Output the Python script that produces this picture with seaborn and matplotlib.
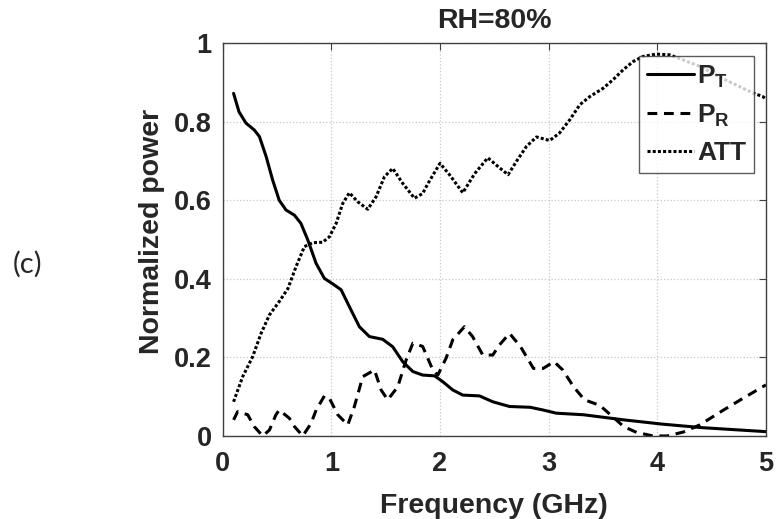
import numpy as np
import pandas as pd
import seaborn as sns
import matplotlib
matplotlib.use('Agg')
import matplotlib.pyplot as plt

# values (frequency in GHz, normalized power)
pt_x = [0.10, 0.15, 0.215, 0.29, 0.338, 0.40, 0.46, 0.52, 0.583, 0.66, 0.72, 0.783, 0.86, 0.936, 1.013,
        1.09, 1.166, 1.258, 1.35, 1.473, 1.565, 1.657, 1.75, 1.84, 1.95, 2.026, 2.118, 2.21, 2.363, 2.486,
        2.64, 2.83, 2.95, 3.07, 3.32, 3.69, 4.05, 4.42, 5.0]
pt_y = [0.872, 0.825, 0.796, 0.779, 0.762, 0.711, 0.651, 0.600, 0.575, 0.562, 0.541, 0.499, 0.439, 0.401,
        0.387, 0.372, 0.329, 0.278, 0.253, 0.246, 0.227, 0.189, 0.164, 0.155, 0.153, 0.138, 0.117, 0.104,
        0.102, 0.087, 0.075, 0.073, 0.066, 0.058, 0.054, 0.041, 0.030, 0.021, 0.011]

pr_x = [0.10, 0.138, 0.23, 0.29, 0.368, 0.43, 0.49, 0.52, 0.614, 0.66, 0.737, 0.813, 0.86, 0.936, 0.982,
        1.059, 1.151, 1.212, 1.289, 1.397, 1.458, 1.519, 1.611, 1.688, 1.75, 1.84, 1.934, 1.98, 2.056, 2.118,
        2.225, 2.30, 2.394, 2.486, 2.548, 2.64, 2.74, 2.86, 2.95, 3.05, 3.13, 3.23, 3.33, 3.47, 3.59, 3.69,
        3.81, 3.96, 4.09, 4.24, 4.39, 4.61, 4.79, 5.0]
pr_y = [0.041, 0.062, 0.054, 0.024, 0.0, 0.015, 0.054, 0.066, 0.045, 0.024, 0.0, 0.032, 0.066, 0.102, 0.096,
        0.054, 0.028, 0.075, 0.151, 0.168, 0.117, 0.092, 0.125, 0.193, 0.236, 0.228, 0.168, 0.155, 0.198,
        0.245, 0.278, 0.253, 0.206, 0.206, 0.232, 0.261, 0.228, 0.172, 0.172, 0.189, 0.168, 0.125, 0.092,
        0.078, 0.049, 0.024, 0.009, 0.0, 0.0, 0.010, 0.028, 0.066, 0.096, 0.130]

att_x = [0.10, 0.184, 0.276, 0.353, 0.43, 0.52, 0.60, 0.675, 0.752, 0.829, 0.92, 0.982, 1.044, 1.105, 1.166,
         1.243, 1.335, 1.412, 1.489, 1.565, 1.657, 1.765, 1.84, 1.89, 2.0, 2.09, 2.21, 2.32, 2.44, 2.55, 2.627,
         2.704, 2.796, 2.888, 3.01, 3.10, 3.195, 3.287, 3.38, 3.502, 3.594, 3.686, 3.778, 3.87, 3.99, 4.115,
         4.40, 4.60, 4.88, 4.97, 5.0]
att_y = [0.087, 0.151, 0.202, 0.261, 0.308, 0.342, 0.375, 0.431, 0.482, 0.492, 0.493, 0.507, 0.541, 0.592,
         0.619, 0.596, 0.577, 0.609, 0.660, 0.681, 0.643, 0.605, 0.617, 0.643, 0.694, 0.664, 0.619, 0.668,
         0.708, 0.682, 0.665, 0.699, 0.737, 0.761, 0.752, 0.771, 0.805, 0.843, 0.864, 0.885, 0.907, 0.932,
         0.953, 0.966, 0.972, 0.970, 0.940, 0.910, 0.873, 0.864, 0.858]

sns.set_style('white')
plt.rcParams['font.family'] = ['Liberation Sans', 'DejaVu Sans']
plt.rcParams['font.weight'] = 'bold'
plt.rcParams['mathtext.fontset'] = 'custom'
plt.rcParams['mathtext.bf'] = 'Liberation Sans:bold'
plt.rcParams['mathtext.rm'] = 'Liberation Sans:bold'
plt.rcParams['mathtext.default'] = 'bf'

fig = plt.figure(figsize=(7.76, 5.19), dpi=100)
ax = fig.add_axes([0.287, 0.160, 0.700, 0.757])

sns.lineplot(x=pt_x, y=pt_y, ax=ax, color='black', lw=2.2, label=r'$P_T$')
sns.lineplot(x=pr_x, y=pr_y, ax=ax, color='black', lw=2.2, linestyle=(0, (3.2, 2.2)), label=r'$P_R$')
sns.lineplot(x=att_x, y=att_y, ax=ax, color='black', lw=2.2, linestyle=(0, (1.0, 0.7)), label='ATT')

ax.set_xlim(0, 5)
ax.set_ylim(0, 1)
ax.set_xticks([0, 1, 2, 3, 4, 5])
ax.set_yticks([0, 0.2, 0.4, 0.6, 0.8, 1])
ax.set_yticklabels(['0', '0.2', '0.4', '0.6', '0.8', '1'])
ax.grid(True, linestyle=':', color='#c8c8c8', linewidth=0.9)
ax.tick_params(direction='in', top=True, right=True, length=5, width=0.8, color='#404040',
               labelsize=19.5)
ax.tick_params(axis='x', pad=11)
ax.tick_params(axis='y', pad=8)
for s in ax.spines.values():
    s.set_color('#404040')
    s.set_linewidth(1.0)

ax.set_xlabel('Frequency (GHz)', fontsize=20.5, fontweight='bold', color='#262626', labelpad=11)
ax.set_ylabel('Normalized power', fontsize=20.5, fontweight='bold', color='#262626')
ax.yaxis.set_label_coords(-0.107, 0.52)
ax.set_title('RH=80%', fontsize=20.5, fontweight='bold', pad=11)
for lab in ax.get_xticklabels() + ax.get_yticklabels():
    lab.set_color('#262626')

leg = ax.legend(loc='upper right', bbox_to_anchor=(0.978, 0.968), fontsize=19, frameon=True,
                fancybox=False, edgecolor='#333333', handlelength=1.8, handletextpad=0.1,
                borderpad=0.3, labelspacing=0.48, borderaxespad=0)
leg.get_frame().set_linewidth(1.0)

fig.text(0.035, 0.491, '(c)', fontsize=21, fontweight='normal', ha='center', va='center',
         family=['Lato', 'DejaVu Sans'])

fig.savefig('out.png', dpi=100)
